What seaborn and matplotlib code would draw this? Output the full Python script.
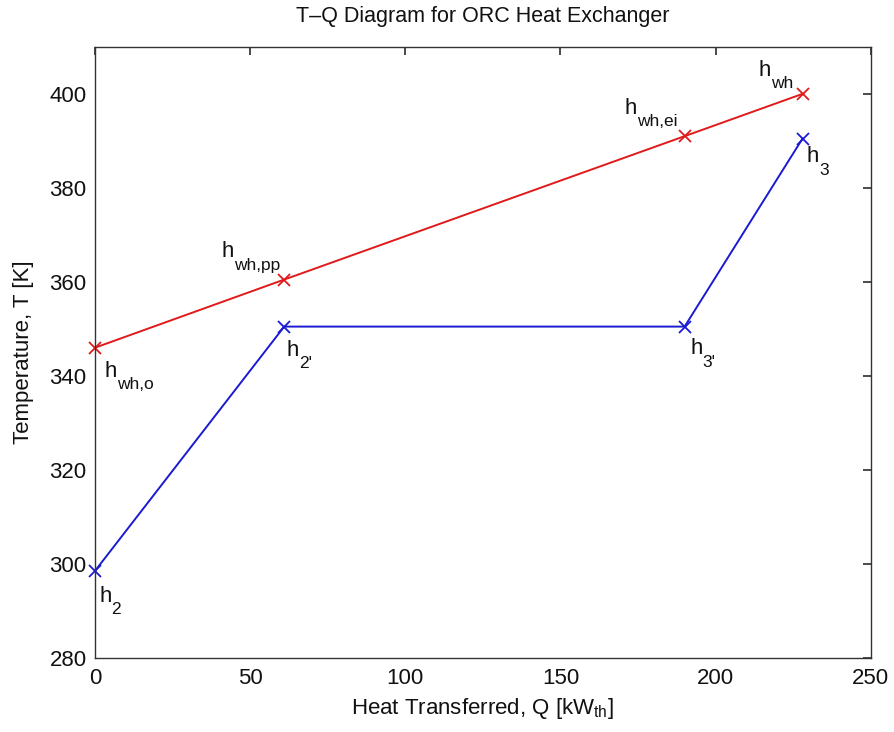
import pandas as pd
import matplotlib
matplotlib.use("Agg")
import matplotlib.pyplot as plt
import seaborn as sns

# Hot side (waste heat) and cold side (working fluid) states
q_hot = [0, 61, 190, 228]
t_hot = [346, 360.5, 391, 400]
hot_subs = ["wh,o", "wh,pp", "wh,ei", "wh"]

q_cold = [0, 61, 190, 228]
t_cold = [298.5, 350.5, 350.5, 390.5]
cold_subs = ["2", "2'", "3'", "3"]

df_hot = pd.DataFrame({"Q": q_hot, "T": t_hot})
df_cold = pd.DataFrame({"Q": q_cold, "T": t_cold})

sns.set_theme(style="white")
plt.rcParams["font.family"] = ["Liberation Sans", "DejaVu Sans"]
plt.rcParams["mathtext.fontset"] = "custom"
plt.rcParams["mathtext.rm"] = "Liberation Sans"

fig = plt.figure(figsize=(8.95, 7.32), dpi=100)
ax = fig.add_axes([0.106, 0.101, 0.867, 0.835])

red = "#e01a1a"
blue = "#1a1ad2"
sns.lineplot(data=df_hot, x="Q", y="T", sort=False, color=red, marker="x",
             markersize=9, markeredgewidth=1.3, markeredgecolor=red, linewidth=1.4,
             clip_on=False, ax=ax)
sns.lineplot(data=df_cold, x="Q", y="T", sort=False, color=blue, marker="x",
             markersize=9, markeredgewidth=1.3, markeredgecolor=blue, linewidth=1.4,
             clip_on=False, ax=ax)


def state_label(x, y, sub, dx, dy):
    # MATLAB style "h" with a low subscript
    ax.annotate("h", (x, y), xytext=(dx, dy), textcoords="offset points",
                fontsize=16, va="baseline", color="#111111")
    ax.annotate(sub, (x, y), xytext=(dx + 9, dy - 9), textcoords="offset points",
                fontsize=12.5, va="baseline", color="#111111")


hot_offsets = [(7, -21), (-45, 16), (-43, 16), (-32, 13)]
for x, y, sub, off in zip(q_hot, t_hot, hot_subs, hot_offsets):
    state_label(x, y, sub, *off)
cold_offsets = [(3, -22), (2, -21), (4, -20), (3, -17)]
for x, y, sub, off in zip(q_cold, t_cold, cold_subs, cold_offsets):
    state_label(x, y, sub, *off)

ax.set_xlim(0, 250)
ax.set_ylim(280, 410)
ax.set_xticks(range(0, 251, 50))
ax.set_yticks(range(280, 401, 20))
ax.tick_params(direction="in", top=True, right=True, labelsize=16, length=6,
               color="#333333", labelcolor="#111111")
ax.tick_params(axis="x", pad=7)
ax.tick_params(axis="y", pad=6)
for s in ax.spines.values():
    s.set_color("#333333")
    s.set_linewidth(1.0)

ax.set_title("T\u2013Q Diagram for ORC Heat Exchanger", fontsize=15.5, pad=18, color="#111111")
ax.set_xlabel(r"Heat Transferred, Q [kW$_{\mathrm{th}}$]", fontsize=16, labelpad=5, color="#111111")
ax.set_ylabel("Temperature, T [K]", fontsize=16, labelpad=11, color="#111111")

fig.savefig("out.png", dpi=100)
